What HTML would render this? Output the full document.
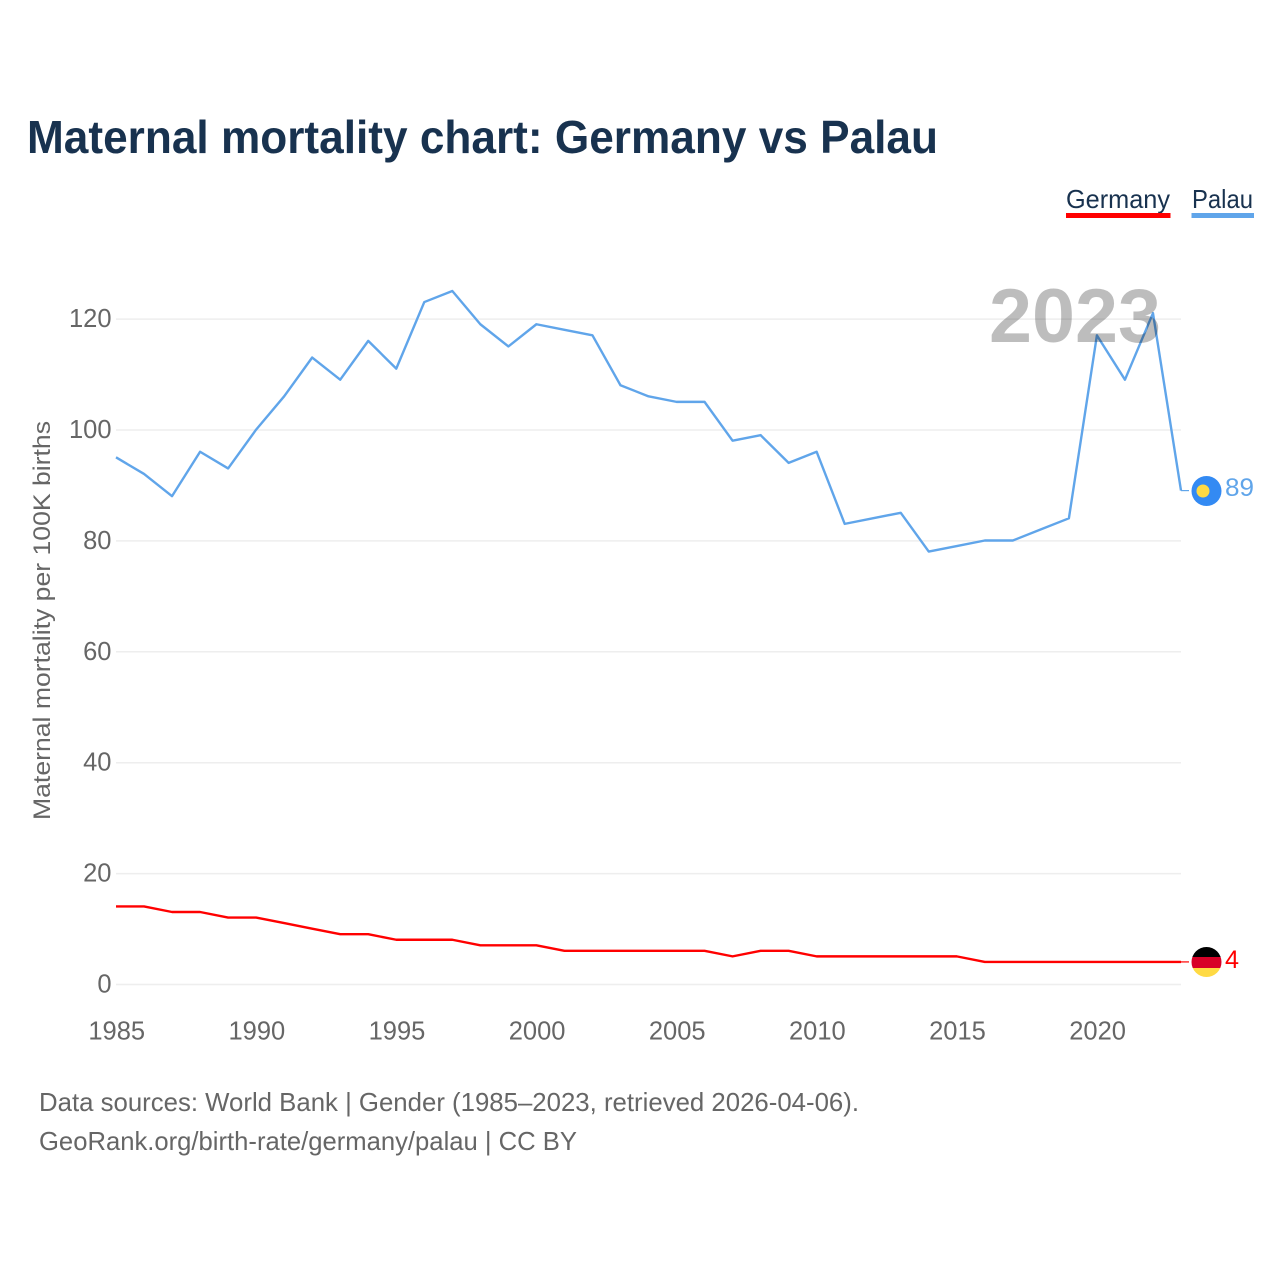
<!DOCTYPE html>
<html lang="en">
<head>
<meta charset="utf-8">
<title>Maternal mortality chart: Germany vs Palau</title>
<style>
html,body{margin:0;padding:0;background:#fff;width:1280px;height:1280px;overflow:hidden}
svg{display:block}
text{font-family:"Liberation Sans",sans-serif}
.tick{font-size:25.5px;fill:#666}
.note{font-size:26px;fill:#666}
</style>
</head>
<body>
<svg id="chart" width="1280" height="1280" viewBox="0 0 1280 1280" xmlns="http://www.w3.org/2000/svg">
  <rect width="1280" height="1280" fill="#fff"/>
  <text x="27" y="153" font-size="46" font-weight="700" fill="#18324f" textLength="911" lengthAdjust="spacingAndGlyphs">Maternal mortality chart: Germany vs Palau</text>

  <g>
    <text x="1066" y="208" font-size="26" fill="#18324f" textLength="104" lengthAdjust="spacingAndGlyphs">Germany</text>
    <rect x="1066" y="213" width="104.500" height="5" fill="#ff0000"/>
  </g>
  <g>
    <text x="1192" y="208" font-size="26" fill="#18324f" textLength="61" lengthAdjust="spacingAndGlyphs">Palau</text>
    <rect x="1191.500" y="213" width="62.500" height="5" fill="#60a5ea"/>
  </g>

  <g id="grid"></g>
  <g id="yticks"></g>
  <g id="xticks"></g>

  <text transform="translate(50,820) rotate(-90)" x="0" y="0" font-size="24" fill="#666" textLength="399" lengthAdjust="spacingAndGlyphs">Maternal mortality per 100K births</text>

  <g id="series"></g>

  <text x="989" y="342" font-size="76" font-weight="700" fill="#000" fill-opacity="0.26" textLength="172" lengthAdjust="spacingAndGlyphs">2023</text>

  <defs>
    <clipPath id="flag-clip-de"><circle cx="1206.500" cy="962" r="15"/></clipPath>
  </defs>
  <g id="end-germany">
    <g clip-path="url(#flag-clip-de)">
      <rect x="1191" y="947" width="31" height="10" fill="#000"/>
      <rect x="1191" y="957" width="31" height="11" fill="#d80027"/>
      <rect x="1191" y="968" width="31" height="10" fill="#ffda44"/>
    </g>
    <text id="end-label-germany" x="1225" y="968" font-size="25" fill="#ff0000" textLength="14" lengthAdjust="spacingAndGlyphs"></text>
  </g>
  <g id="end-palau">
    <g>
      <circle cx="1206.500" cy="491" r="15" fill="#338af3"/>
      <circle cx="1203" cy="491" r="6.500" fill="#ffda44"/>
    </g>
    <text id="end-label-palau" x="1225" y="496" font-size="25" fill="#60a5ea" textLength="29" lengthAdjust="spacingAndGlyphs"></text>
  </g>

  <text class="note" x="39" y="1111" textLength="820" lengthAdjust="spacingAndGlyphs">Data sources: World Bank | Gender (1985–2023, retrieved 2026-04-06).</text>
  <text class="note" x="39" y="1150" textLength="538" lengthAdjust="spacingAndGlyphs">GeoRank.org/birth-rate/germany/palau | CC BY</text>
</svg>
<script>
const years = [1985,1986,1987,1988,1989,1990,1991,1992,1993,1994,1995,1996,1997,1998,1999,2000,2001,2002,2003,2004,2005,2006,2007,2008,2009,2010,2011,2012,2013,2014,2015,2016,2017,2018,2019,2020,2021,2022,2023];
const palau = [95,92,88,96,93,100,106,113,109,116,111,123,125,119,115,119,118,117,108,106,105,105,98,99,94,96,83,84,85,78,79,80,80,82,84,117,109,121,89];
const germany = [14,14,13,13,12,12,11,10,9,9,8,8,8,7,7,7,6,6,6,6,6,6,5,6,6,5,5,5,5,5,5,4,4,4,4,4,4,4,4];
const yTickValues = [0,20,40,60,80,100,120];
const xTickValues = [1985,1990,1995,2000,2005,2010,2015,2020];

const SVGNS = 'http://www.w3.org/2000/svg';
const plotLeft = 116, plotRight = 1181, zeroY = 984.5, unitY = 5.545;
const lineShiftY = -0.4;
function xScale(year) {
  return plotLeft + (year - years[0]) * (plotRight - plotLeft) / (years[years.length - 1] - years[0]);
}
function yScale(value) {
  return zeroY - value * unitY;
}
function make(tag, parentId) {
  const el = document.createElementNS(SVGNS, tag);
  document.getElementById(parentId).appendChild(el);
  return el;
}
function pathFrom(values) {
  return values.map(function (v, i) {
    return (i ? 'L' : 'M') + xScale(years[i]).toFixed(2) + ' ' + (yScale(v) + lineShiftY).toFixed(2);
  }).join(' ');
}

yTickValues.forEach(function (v) {
  const line = make('line', 'grid');
  
  
  line.setAttribute('x1', plotLeft);
  line.setAttribute('x2', plotRight);
  line.setAttribute('y1', yScale(v));
  line.setAttribute('y2', yScale(v));
  line.setAttribute('stroke', '#eeeeee');
  line.setAttribute('stroke-width', '1.5');

  const label = make('text', 'yticks');
  
  
  label.setAttribute('class', 'tick');
  label.setAttribute('x', 111.5);
  label.setAttribute('y', yScale(v) + 8);
  label.setAttribute('text-anchor', 'end');
  label.textContent = String(v);
});

xTickValues.forEach(function (year) {
  const label = make('text', 'xticks');
  
  
  label.setAttribute('class', 'tick');
  label.setAttribute('x', xScale(year) + 0.7);
  label.setAttribute('y', 1039.5);
  label.setAttribute('text-anchor', 'middle');
  label.textContent = String(year);
});

const palauLine = make('path', 'series');


palauLine.setAttribute('d', pathFrom(palau));
palauLine.setAttribute('fill', 'none');
palauLine.setAttribute('stroke', '#60a5ea');
palauLine.setAttribute('stroke-width', '2.4');
palauLine.setAttribute('stroke-linejoin', 'round');

const germanyLine = make('path', 'series');


germanyLine.setAttribute('d', pathFrom(germany));
germanyLine.setAttribute('fill', 'none');
germanyLine.setAttribute('stroke', '#ff0000');
germanyLine.setAttribute('stroke-width', '2.4');
germanyLine.setAttribute('stroke-linejoin', 'round');

const palauLast = palau[palau.length - 1];
const germanyLast = germany[germany.length - 1];

const palauLeader = make('line', 'series');


palauLeader.setAttribute('x1', plotRight);
palauLeader.setAttribute('x2', 1189);
palauLeader.setAttribute('y1', yScale(palauLast) + lineShiftY);
palauLeader.setAttribute('y2', yScale(palauLast) + lineShiftY);
palauLeader.setAttribute('stroke', '#60a5ea');
palauLeader.setAttribute('stroke-width', '1.2');

const germanyLeader = make('line', 'series');


germanyLeader.setAttribute('x1', plotRight);
germanyLeader.setAttribute('x2', 1189);
germanyLeader.setAttribute('y1', yScale(germanyLast) + lineShiftY);
germanyLeader.setAttribute('y2', yScale(germanyLast) + lineShiftY);
germanyLeader.setAttribute('stroke', '#ff0000');
germanyLeader.setAttribute('stroke-width', '1.2');

document.getElementById('end-label-palau').textContent = String(palauLast);
document.getElementById('end-label-germany').textContent = String(germanyLast);
</script>
</body>
</html>
